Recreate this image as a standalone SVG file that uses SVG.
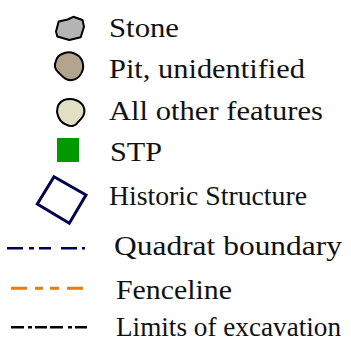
<svg xmlns="http://www.w3.org/2000/svg" width="351" height="349" viewBox="0 0 351 349">
<style>
text{font-family:'Liberation Serif','DejaVu Serif','Noto Serif',serif;font-size:28px;fill:#111}
.feat{stroke:#000;stroke-width:2;stroke-linejoin:round}
.ln{fill:none}
</style>
<rect width="351" height="349" fill="#fff"/>
<g id="stone">
<path class="feat" fill="#b4b4b4" d="M56,31.5 L58.7,21.5 L67.7,19.5 L73.3,16.8 L82.5,20 L84,26.7 L80.7,37.3 L69.3,40 L57.3,36.5 Z"/>
<text x="109" y="37" textLength="70" lengthAdjust="spacingAndGlyphs" font-family="Liberation Serif, DejaVu Serif, serif">Stone</text>
</g>
<g id="pit">
<path class="feat" fill="#b3a48d" d="M62,54 C70,50 80,54 82.5,62 C85,70 80,79 72,80 C66,81 62,76 58,72 C55,69 54,65 56,61 C57,57 59,55 62,54 Z"/>
<text x="109" y="78" textLength="196" lengthAdjust="spacingAndGlyphs" font-family="Liberation Serif, DejaVu Serif, serif">Pit, unidentified</text>
</g>
<g id="other">
<path class="feat" fill="#e3dfc5" d="M64,100 C72,97 82,101 84,108 C86,115 81,119 78,122 C76,126 71,127 67,125 C61,123 58,118 57,112 C57,106 59,102 64,100 Z"/>
<text x="109" y="120" textLength="214" lengthAdjust="spacingAndGlyphs" font-family="Liberation Serif, DejaVu Serif, serif">All other features</text>
</g>
<g id="stp">
<rect x="57" y="138" width="22" height="24" fill="#009a00"/>
<text x="110" y="161" textLength="52" lengthAdjust="spacingAndGlyphs" font-family="Liberation Serif, DejaVu Serif, serif">STP</text>
</g>
<g id="historic">
<path fill="none" stroke="#00004f" stroke-width="3" d="M54,176.7 L86,195 L69.3,223.3 L37.3,204 Z"/>
<text x="109" y="205" textLength="198" lengthAdjust="spacingAndGlyphs" font-family="Liberation Serif, DejaVu Serif, serif">Historic Structure</text>
</g>
<g id="connectors">
<g id="quadrat">
<path class="ln" stroke="#00005a" stroke-width="2.5" d="M7,248.3 H23 M29,248.3 H34 M39,248.3 H51 M61,248.3 H77 M82,248.3 H85"/>
</g>
<g id="fence">
<path class="ln" stroke="#e97b10" stroke-width="3" d="M11,288.3 H27 M35,288.3 H43 M50,288.3 H59 M67,288.3 H83"/>
</g>
<g id="limits">
<path class="ln" stroke="#000" stroke-width="2.5" d="M11,327.3 H24 M28,327.3 H32 M35,327.3 H47 M50,327.3 H63 M68,327.3 H72 M75,327.3 H87"/>
</g>
</g>
<g id="labels">
<text x="114" y="255" textLength="228" lengthAdjust="spacingAndGlyphs" font-family="Liberation Serif, DejaVu Serif, serif">Quadrat boundary</text>
<text x="116" y="299" textLength="116" lengthAdjust="spacingAndGlyphs" font-family="Liberation Serif, DejaVu Serif, serif">Fenceline</text>
<text x="116" y="336" textLength="225" lengthAdjust="spacingAndGlyphs" font-family="Liberation Serif, DejaVu Serif, serif">Limits of excavation</text>
</g>
</svg>
